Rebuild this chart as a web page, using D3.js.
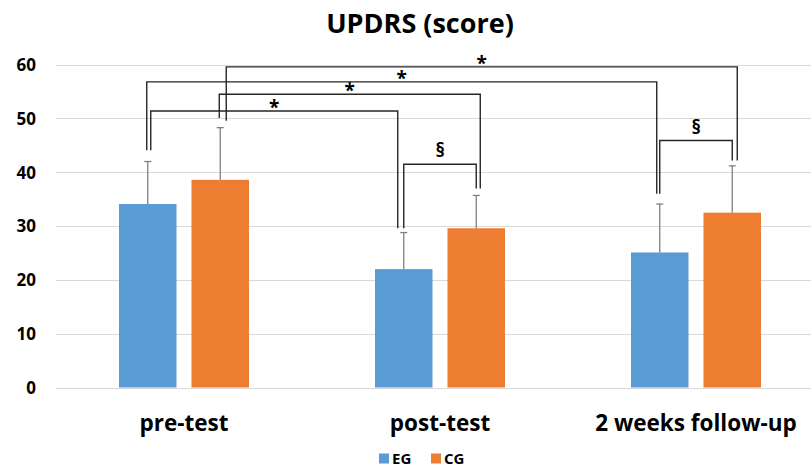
<!DOCTYPE html>
<html>
<head>
<meta charset="utf-8">
<script src="https://cdn.jsdelivr.net/npm/d3@7/dist/d3.min.js"></script>
<style>
  html, body { margin: 0; padding: 0; background: #fff; }
  svg { display: block; }
  text { font-family: "Open Sans", "Noto Sans", sans-serif; font-weight: 700; fill: #000; }
</style>
</head>
<body>
<svg id="chart" width="811" height="468"></svg>
<script>
// UPDRS scores by measurement time
const categories = ["pre-test", "post-test", "2 weeks follow-up"];
const seriesNames = ["EG", "CG"];
const egMeans = [34.1, 22.0, 25.1];
const egSD = [7.9, 6.8, 9.0];
const cgMeans = [38.6, 29.6, 32.5];
const cgSD = [9.7, 6.1, 8.7];
const yTicks = [0, 10, 20, 30, 40, 50, 60];
const colors = ["#5B9BD5", "#ED7D31"];

// significance brackets: [category, series] at each end, leg bottoms and bar height in score units
const brackets = [
  { from: [0, 0], to: [1, 0], fromLeg: 44.1, toLeg: 29.6, top: 51.4, mark: "*", dx: [3, -6] },
  { from: [0, 1], to: [1, 1], fromLeg: 50.1, toLeg: 37.0, top: 54.5, mark: "*", dx: [-1, 4] },
  { from: [0, 0], to: [2, 0], fromLeg: 44.1, toLeg: 36.0, top: 56.8, mark: "*", dx: [-1, -3] },
  { from: [0, 1], to: [2, 1], fromLeg: 49.6, toLeg: 42.2, top: 59.6, mark: "*", dx: [6, 5] },
  { from: [1, 0], to: [1, 1], fromLeg: 29.6, toLeg: 37.0, top: 41.5, mark: "§", dx: [0, 0] },
  { from: [2, 0], to: [2, 1], fromLeg: 36.0, toLeg: 42.2, top: 45.9, mark: "§", dx: [0, 0] }
];

const svg = d3.select("#chart");
const margin = { left: 56, right: -13 };
const W = 811;

const x = d3.scaleBand().domain(categories).range([margin.left, W - margin.right]).paddingInner(0).paddingOuter(0);
const barW = 57.5, barGap = 15;
const span = 2 * barW + barGap;
const xs = d3.scaleBand().domain(seriesNames)
  .range([x.bandwidth() / 2 - span / 2, x.bandwidth() / 2 + span / 2])
  .paddingInner(barGap / (barW + barGap)).paddingOuter(0);
const y = d3.scaleLinear().domain([0, 60]).range([387.5, 64.7]);

const values = [egMeans, cgMeans];
const sds = [egSD, cgSD];
const barCenter = (c, s) => x(categories[c]) + xs(seriesNames[s]) + xs.bandwidth() / 2;

// gridlines
svg.append("g").selectAll("line").data(yTicks).join("line")
  .attr("x1", margin.left).attr("x2", W)
  .attr("y1", d => Math.round(y(d)) + 0.5).attr("y2", d => Math.round(y(d)) + 0.5)
  .attr("stroke", "#d9d9d9").attr("stroke-width", 1.2);

// y axis labels
const yAxis = d3.axisLeft(y).tickValues(yTicks).tickSize(0).tickPadding(0);
const gy = svg.append("g").attr("transform", "translate(36,0)").call(yAxis);
gy.select(".domain").remove();
gy.selectAll("text").style("font-size", "17px").style("font-family", "'Open Sans', sans-serif")
  .style("font-weight", "700").attr("fill", "#000").attr("dy", "0.34em");

// bars
const gBars = svg.append("g");
seriesNames.forEach((s, si) => {
  gBars.selectAll(".bar-" + s).data(values[si]).join("rect")
    .attr("x", (d, i) => x(categories[i]) + xs(s))
    .attr("width", xs.bandwidth())
    .attr("y", d => y(d))
    .attr("height", d => y(0) - y(d))
    .attr("fill", colors[si]);
});

// error bars (upper whisker only)
const gErr = svg.append("g").attr("stroke", "#7f7f7f").attr("stroke-width", 1.3);
seriesNames.forEach((s, si) => {
  values[si].forEach((v, i) => {
    const cx = barCenter(i, si);
    const top = y(v + sds[si][i]);
    gErr.append("line").attr("x1", cx).attr("x2", cx).attr("y1", y(v)).attr("y2", top);
    gErr.append("line").attr("x1", cx - 3.5).attr("x2", cx + 3.5).attr("y1", top).attr("y2", top);
  });
});

// significance brackets
const gBr = svg.append("g");
brackets.forEach(b => {
  const x1 = barCenter(b.from[0], b.from[1]) + b.dx[0];
  const x2 = barCenter(b.to[0], b.to[1]) + b.dx[1];
  const yt = y(b.top);
  gBr.append("path")
    .attr("d", `M${x1},${y(b.fromLeg)}V${yt}H${x2}V${y(b.toLeg)}`)
    .attr("fill", "none").attr("stroke", "#262626").attr("stroke-width", 1.4);
  const isStar = b.mark === "*";
  gBr.append("text")
    .attr("x", (x1 + x2) / 2).attr("y", yt + (isStar ? 3 : -7))
    .attr("text-anchor", "middle")
    .style("font-size", isStar ? "19px" : "19px")
    .text(b.mark);
});

// category labels
svg.append("g").selectAll("text").data(categories).join("text")
  .attr("x", d => x(d) + x.bandwidth() / 2)
  .attr("y", 431)
  .attr("text-anchor", "middle")
  .style("font-size", "22.5px")
  .text(d => d);

// title
svg.append("text").attr("x", 420).attr("y", 33).attr("text-anchor", "middle")
  .style("font-size", "27px").text("UPDRS (score)");

// legend
const legend = svg.append("g");
const legX = [379, 431];
seriesNames.forEach((s, i) => {
  legend.append("rect").attr("x", legX[i]).attr("y", 453.5).attr("width", 10).attr("height", 10).attr("fill", colors[i]);
  legend.append("text").attr("x", legX[i] + 13).attr("y", 463.5).style("font-size", "15px").text(s);
});
</script>
</body>
</html>
